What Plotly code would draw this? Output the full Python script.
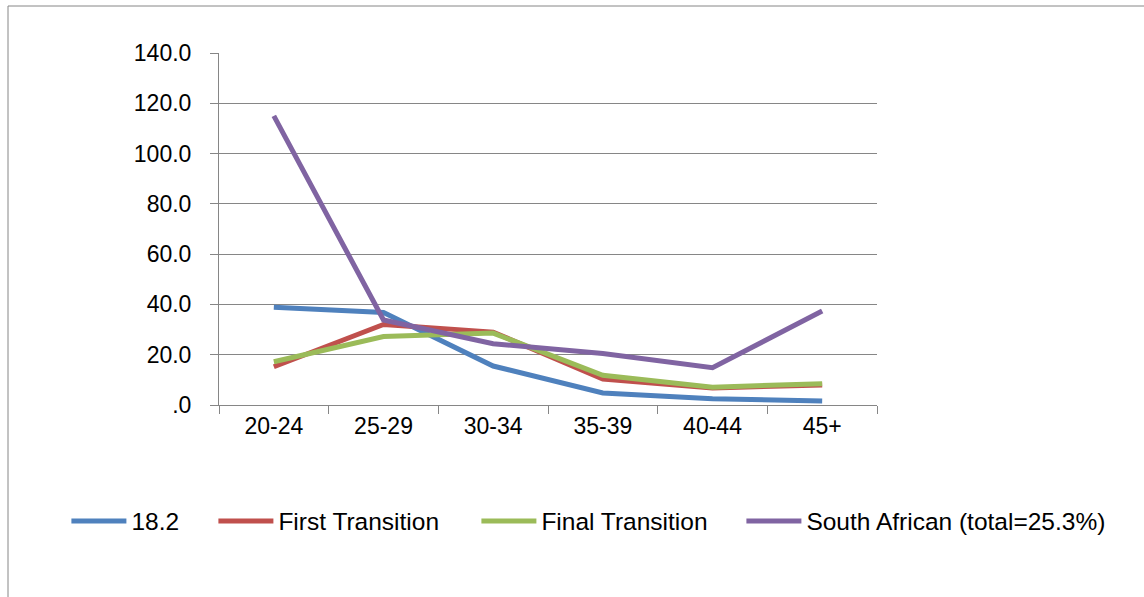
import plotly.graph_objects as go

categories = ["20-24", "25-29", "30-34", "35-39", "40-44", "45+"]
series_names = ["18.2", "First Transition", "Final Transition", "South African (total=25.3%)"]
s_18_2 = [38.9, 36.8, 15.5, 4.8, 2.5, 1.6]
s_first = [15.2, 32.0, 29.0, 10.3, 6.8, 8.0]
s_final = [17.2, 27.2, 28.6, 11.8, 7.1, 8.5]
s_sa = [115.0, 33.8, 24.4, 20.5, 14.8, 37.4]
colors = ["#4F81BD", "#C0504D", "#9BBB59", "#8064A2"]

y_tickvals = [0, 20, 40, 60, 80, 100, 120, 140]
y_ticktext = [".0", "20.0", "40.0", "60.0", "80.0", "100.0", "120.0", "140.0"]

FONT = "Liberation Sans, Arial, sans-serif"

# plot area in px
L, R, T, B = 219, 877, 53, 405
W = R - L
H = B - T

legend_ids = ["legend", "legend2", "legend3", "legend4"]
legend_line_px = [72, 219, 482, 747]

fig = go.Figure()
for name, vals, col, lid in zip(series_names, [s_18_2, s_first, s_final, s_sa], colors, legend_ids):
    fig.add_trace(go.Scatter(
        x=categories, y=vals, name=name, mode="lines", legend=lid,
        line=dict(color=col, width=5, shape="linear"),
    ))

leg_common = dict(
    orientation="h", xanchor="left", yanchor="middle", y=(B - 521) / H,
    font=dict(family=FONT, size=24.5, color="black"),
    bgcolor="rgba(0,0,0,0)", itemwidth=55,
)
legends = {}
for lid, px in zip(legend_ids, legend_line_px):
    legends[lid] = dict(leg_common, x=(px - 5.6 - L) / W)

fig.update_layout(
    width=1144, height=597,
    margin=dict(l=L, r=1144 - R, t=T, b=597 - B, autoexpand=False),
    paper_bgcolor="white", plot_bgcolor="white",
    font=dict(family=FONT, size=23, color="black"),
    showlegend=True,
    xaxis=dict(
        type="category", showgrid=False, showline=True, linecolor="#868686", linewidth=1,
        ticks="outside", ticklen=8, tickcolor="#868686", tickson="boundaries",
        range=[-0.5, 5.5], zeroline=False,
    ),
    yaxis=dict(
        range=[0, 140], tickvals=y_tickvals, ticktext=y_ticktext,
        showgrid=True, gridcolor="#868686", gridwidth=1,
        showline=True, linecolor="#868686", linewidth=1,
        ticks="outside", ticklen=8, tickcolor="#868686", zeroline=False,
        ticklabelstandoff=14,
    ),
    shapes=[dict(type="rect", xref="paper", yref="paper",
                 x0=(8 - L) / W, x1=(1150 - L) / W,
                 y0=(B - 610) / H, y1=(B - 6) / H,
                 line=dict(color="#868686", width=1), fillcolor="rgba(0,0,0,0)", layer="below")],
    **legends,
)

fig.write_html("out.html", config={"displayModeBar": False},
               post_script="document.body.style.margin='0';")
